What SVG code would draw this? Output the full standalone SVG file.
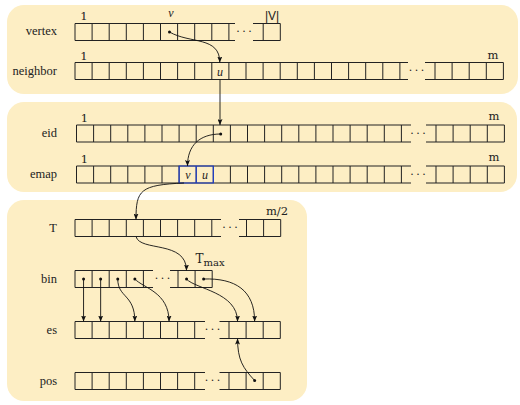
<svg xmlns="http://www.w3.org/2000/svg" width="520" height="405" viewBox="0 0 520 405">
<defs>
<style>
.panel{fill:#FDEEC4}
.cell{fill:none;stroke:#222;stroke-width:1}
.blue{fill:none;stroke:#1f3fd0;stroke-width:1.2}
.lbl{font-family:"Liberation Serif",serif;font-size:12.5px;text-anchor:end;fill:#222}
.idx{font-family:"DejaVu Serif",serif;font-size:11.5px;text-anchor:middle;fill:#222}
.it{font-family:"Liberation Serif",serif;font-style:italic;font-size:12px;text-anchor:middle;fill:#222}
.dots{font-family:"Liberation Serif",serif;font-size:12px;text-anchor:middle;letter-spacing:2px;fill:#222}
.conn{fill:none;stroke:#111;stroke-width:0.9}
.dot{fill:#111}
</style>
<marker id="ah" viewBox="0 0 6 5" refX="6" refY="2.5" markerWidth="6" markerHeight="5" orient="auto" markerUnits="userSpaceOnUse">
<path d="M0,0 L6,2.5 L0,5 L1.2,2.5 Z" fill="#111"/>
</marker>
</defs>

<g id="panels">
<rect class="panel" x="7" y="5" width="511" height="89" rx="17"/>
<rect class="panel" x="7" y="102" width="510" height="90" rx="17"/>
<rect class="panel" x="7" y="200" width="300" height="201" rx="17"/>
</g>

<g id="vertex">
<text class="lbl" x="57" y="35">vertex</text>
<path class="cell" d="M75,23.5H235M75,40.5H235M253,23.5H280.3M253,40.5H280.3M75,23.5V40.5M92.1,23.5V40.5M109.2,23.5V40.5M126.3,23.5V40.5M143.4,23.5V40.5M160.5,23.5V40.5M177.6,23.5V40.5M194.7,23.5V40.5M211.8,23.5V40.5M228.9,23.5V40.5M263.2,23.5V40.5M280.3,23.5V40.5"/>
<text class="dots" x="245" y="35">···</text>
<text class="idx" x="84" y="20">1</text>
<text class="it" x="171" y="17">v</text>
<text x="272" y="19.5" style="font-family:'Liberation Sans',sans-serif;font-size:12px;text-anchor:middle;fill:#222">|V|</text>
</g>

<g id="neighbor">
<text class="lbl" x="57" y="74.5">neighbor</text>
<path class="cell" d="M75,62.5H408M75,79.5H408M425,62.5H503.4M425,79.5H503.4M75,62.5V79.5M92.1,62.5V79.5M109.2,62.5V79.5M126.3,62.5V79.5M143.4,62.5V79.5M160.5,62.5V79.5M177.6,62.5V79.5M194.7,62.5V79.5M211.8,62.5V79.5M228.9,62.5V79.5M246,62.5V79.5M263.1,62.5V79.5M280.2,62.5V79.5M297.3,62.5V79.5M314.4,62.5V79.5M331.5,62.5V79.5M348.6,62.5V79.5M365.7,62.5V79.5M382.8,62.5V79.5M399.9,62.5V79.5M435,62.5V79.5M452.1,62.5V79.5M469.2,62.5V79.5M486.3,62.5V79.5M503.4,62.5V79.5"/>
<text class="dots" x="417.5" y="74">···</text>
<text class="idx" x="84" y="60">1</text>
<text class="idx" x="493" y="58.5">m</text>
<text class="it" x="220" y="75.5">u</text>
</g>

<g id="eid">
<text class="lbl" x="57" y="137">eid</text>
<path class="cell" d="M76.5,125H411M76.5,142H411M426,125H504.4M426,142H504.4M76.5,125V142M93.6,125V142M110.7,125V142M127.8,125V142M144.9,125V142M162,125V142M179.1,125V142M196.2,125V142M213.3,125V142M230.4,125V142M247.5,125V142M264.6,125V142M281.7,125V142M298.8,125V142M315.9,125V142M333,125V142M350.1,125V142M367.2,125V142M384.3,125V142M401.4,125V142M436,125V142M453.1,125V142M470.2,125V142M487.3,125V142M504.4,125V142"/>
<text class="dots" x="419" y="136.5">···</text>
<text class="idx" x="84.5" y="121.5">1</text>
<text class="idx" x="494" y="120">m</text>
</g>

<g id="emap">
<text class="lbl" x="57" y="178">emap</text>
<path class="cell" d="M76.5,166H411M76.5,183H411M426,166H504.4M426,183H504.4M76.5,166V183M93.6,166V183M110.7,166V183M127.8,166V183M144.9,166V183M162,166V183M179.1,166V183M196.2,166V183M213.3,166V183M230.4,166V183M247.5,166V183M264.6,166V183M281.7,166V183M298.8,166V183M315.9,166V183M333,166V183M350.1,166V183M367.2,166V183M384.3,166V183M401.4,166V183M436,166V183M453.1,166V183M470.2,166V183M487.3,166V183M504.4,166V183"/>
<path class="blue" d="M179.1,166H213.3V183H179.1ZM196.2,166V183"/>
<text class="dots" x="419" y="177.5">···</text>
<text class="idx" x="84.5" y="163">1</text>
<text class="idx" x="494" y="160.5">m</text>
<text class="it" x="188" y="178.5">v</text>
<text class="it" x="205" y="178.5">u</text>
</g>

<g id="T">
<text class="lbl" x="57" y="231.5">T</text>
<path class="cell" d="M75,219.5H221M75,236.5H221M239,219.5H280.7M239,236.5H280.7M75,219.5V236.5M92.1,219.5V236.5M109.2,219.5V236.5M126.3,219.5V236.5M143.4,219.5V236.5M160.5,219.5V236.5M177.6,219.5V236.5M194.7,219.5V236.5M211.8,219.5V236.5M246.5,219.5V236.5M263.6,219.5V236.5M280.7,219.5V236.5"/>
<text class="dots" x="231" y="231">···</text>
<text class="idx" x="277" y="215">m/2</text>
</g>

<g id="bin">
<text class="lbl" x="57" y="282.5">bin</text>
<path class="cell" d="M75,270.5H153M75,287.5H153M170,270.5H212.2M170,287.5H212.2M75,270.5V287.5M92.1,270.5V287.5M109.2,270.5V287.5M126.3,270.5V287.5M143.4,270.5V287.5M178,270.5V287.5M195.1,270.5V287.5M212.2,270.5V287.5"/>
<text class="dots" x="163.5" y="282">···</text>
<text class="idx" x="210" y="263" style="font-size:12px">T<tspan dy="2.5" font-size="10px">max</tspan></text>
</g>

<g id="es">
<text class="lbl" x="57" y="333.5">es</text>
<path class="cell" d="M75,321.5H205M75,338.5H205M219.5,321.5H280.3M219.5,338.5H280.3M75,321.5V338.5M92.1,321.5V338.5M109.2,321.5V338.5M126.3,321.5V338.5M143.4,321.5V338.5M160.5,321.5V338.5M177.6,321.5V338.5M194.7,321.5V338.5M229,321.5V338.5M246.1,321.5V338.5M263.2,321.5V338.5M280.3,321.5V338.5"/>
<text class="dots" x="213.5" y="333">···</text>
</g>

<g id="pos">
<text class="lbl" x="57" y="384.5">pos</text>
<path class="cell" d="M75,372.5H205M75,389.5H205M219.5,372.5H280.3M219.5,389.5H280.3M75,372.5V389.5M92.1,372.5V389.5M109.2,372.5V389.5M126.3,372.5V389.5M143.4,372.5V389.5M160.5,372.5V389.5M177.6,372.5V389.5M194.7,372.5V389.5M229,372.5V389.5M246.1,372.5V389.5M263.2,372.5V389.5M280.3,372.5V389.5"/>
<text class="dots" x="213.5" y="384">···</text>
</g>

<g id="connectors">
<path class="conn" marker-end="url(#ah)" d="M169.5,32 C190,44 219.8,36 219.8,62.5"/>
<path class="conn" marker-end="url(#ah)" d="M220,79.5 L220,125"/>
<path class="conn" marker-end="url(#ah)" d="M220.7,134 C200,134 187.5,145 187.5,166"/>
<path class="conn" marker-end="url(#ah)" d="M184,183 C140,185 136,190 136,219.5"/>
<path class="conn" marker-end="url(#ah)" d="M136,236.5 C140,252 186.5,240 186.5,270.5"/>
<path class="conn" marker-end="url(#ah)" d="M83.55,279 L83.55,321.5"/>
<path class="conn" marker-end="url(#ah)" d="M100.65,279 L100.65,321.5"/>
<path class="conn" marker-end="url(#ah)" d="M117.75,279 C117.75,298 134.85,294 134.85,321.5"/>
<path class="conn" marker-end="url(#ah)" d="M134.85,279 C143,288 169.05,292 169.05,321.5"/>
<path class="conn" marker-end="url(#ah)" d="M186.55,279 C195,289 237.55,292 237.55,321.5"/>
<path class="conn" marker-end="url(#ah)" d="M203.65,279 C235,278 254.65,290 254.65,321.5"/>
<path class="conn" marker-end="url(#ah)" d="M254.65,380.5 C243,368 237.55,360 237.55,338.5"/>
<circle class="dot" cx="169.5" cy="32" r="1.5"/>
<circle class="dot" cx="220.7" cy="134" r="1.5"/>
<circle class="dot" cx="83.55" cy="279" r="1.5"/>
<circle class="dot" cx="100.65" cy="279" r="1.5"/>
<circle class="dot" cx="117.75" cy="279" r="1.5"/>
<circle class="dot" cx="134.85" cy="279" r="1.5"/>
<circle class="dot" cx="186.55" cy="279" r="1.5"/>
<circle class="dot" cx="203.65" cy="279" r="1.5"/>
<circle class="dot" cx="254.65" cy="380.5" r="1.5"/>
</g>
</svg>
